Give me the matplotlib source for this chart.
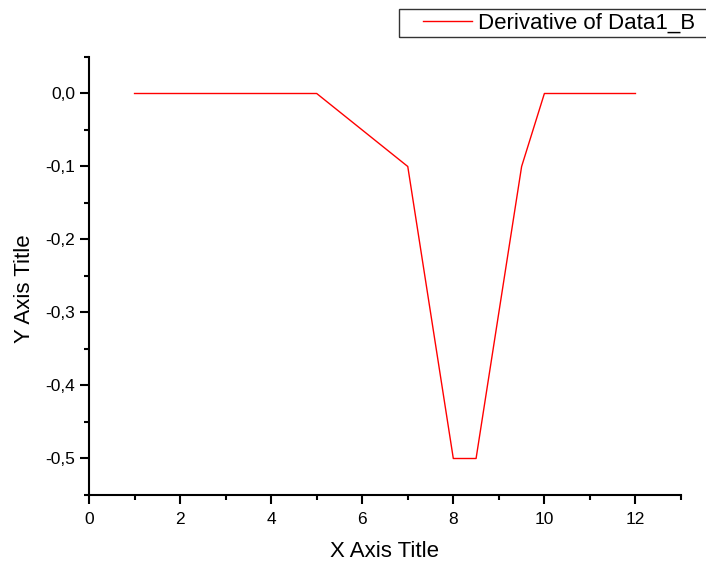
import matplotlib
matplotlib.use('Agg')
import matplotlib.pyplot as plt
from matplotlib.patches import Rectangle
from matplotlib.ticker import MultipleLocator, FuncFormatter

# data
x_vals = [1, 2, 3, 4, 5, 7, 8, 8.5, 9.5, 10, 11, 12]
y_vals = [0, 0, 0, 0, 0, -0.1, -0.5, -0.5, -0.1, 0, 0, 0]
series_name = 'Derivative of Data1_B'
x_title = 'X Axis Title'
y_title = 'Y Axis Title'

plt.rcParams['font.family'] = ['Liberation Sans', 'DejaVu Sans']

W, H = 706, 561
fig = plt.figure(figsize=(W / 100, H / 100), dpi=100)
ax = fig.add_axes([89 / W, 66 / H, 592 / W, 438 / H])

line, = ax.plot(x_vals, y_vals, color='#ff0000', lw=1.0)

ax.set_xlim(0, 13)
ax.set_ylim(-0.55, 0.05)

ax.xaxis.set_major_locator(MultipleLocator(2))
ax.xaxis.set_minor_locator(MultipleLocator(1))
ax.yaxis.set_major_locator(MultipleLocator(0.1))
ax.yaxis.set_minor_locator(MultipleLocator(0.05))


def comma_fmt(v, pos):
    return f'{v:.1f}'.replace('.', ',').replace('-0,0', '0,0')


ax.yaxis.set_major_formatter(FuncFormatter(comma_fmt))
ax.xaxis.set_major_formatter(FuncFormatter(lambda v, p: f'{v:.0f}'))

for side in ['top', 'right']:
    ax.spines[side].set_visible(False)
for side in ['left', 'bottom']:
    ax.spines[side].set_linewidth(1.5)

ax.tick_params(which='major', direction='out', length=6.5, width=1.5, labelsize=12.5)
ax.tick_params(axis='x', which='major', pad=5.5)
ax.tick_params(axis='y', which='major', pad=3.5)
ax.tick_params(which='minor', direction='out', length=3.6, width=1.5)

ax.set_xlabel(x_title, fontsize=16, labelpad=10)
ax.set_ylabel(y_title, fontsize=16)
ax.yaxis.set_label_coords(-0.092, 0.47)

# legend box runs off the right edge like in the original
fig.add_artist(Rectangle((399 / W, 1 - 37 / H), 330 / W, 28 / H,
                         transform=fig.transFigure, fill=False,
                         edgecolor='#333333', lw=1.0))
fig.legend([line], [series_name], loc='center left',
           bbox_to_anchor=(423 / W, 1 - 23 / H),
           fontsize=16, frameon=False,
           handlelength=2.2, handletextpad=0.27,
           borderpad=0, borderaxespad=0)

fig.savefig('out.png', dpi=100)
